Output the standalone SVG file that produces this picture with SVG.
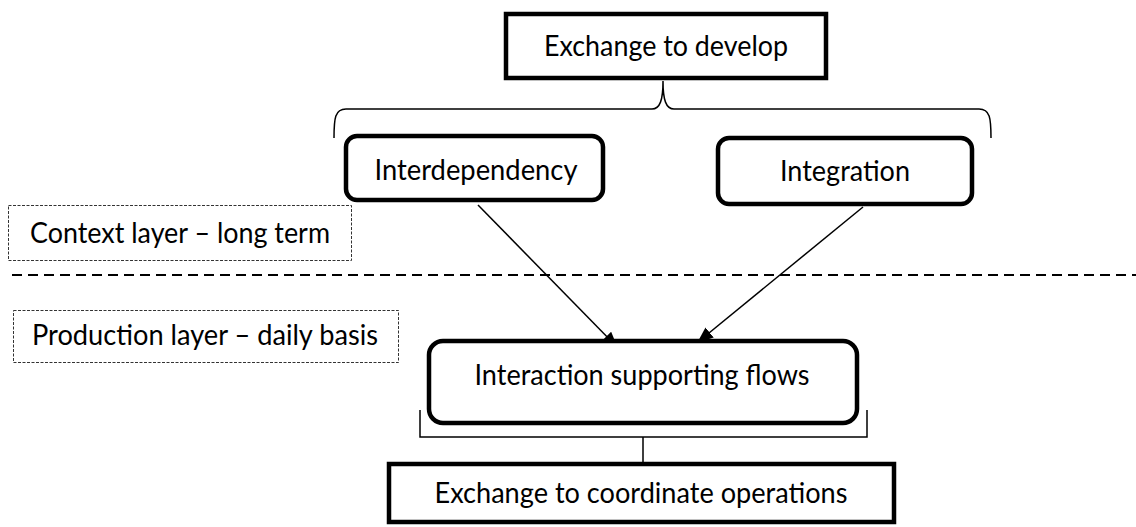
<svg xmlns="http://www.w3.org/2000/svg" width="1136" height="527" viewBox="0 0 1136 527">
<style>
  text { font-family: Lato, "Open Sans", "Liberation Sans", sans-serif; font-size: 29px; fill: #000; }
  .box { fill: #fff; stroke: #000; stroke-width: 4.5; }
  .label { fill: #fff; stroke: #333; stroke-width: 1; stroke-dasharray: 3 1.5; }
  .conn { fill: none; stroke: #000; stroke-width: 1.5; }
</style>
<defs>
  <marker id="arrow" markerUnits="userSpaceOnUse" markerWidth="16" markerHeight="13" refX="15" refY="6.5" orient="auto">
    <path d="M0,0 L16,6.5 L0,13 Z" fill="#000"/>
  </marker>
</defs>
<rect width="1136" height="527" fill="#fff"/>

<g id="connectors">
  <path class="conn" d="M334,138 C334,118 335,109 346,109 L652,109 C660,109 663,100 663,81 C663,100 666,109 674,109 L979,109 C990,109 991,118 991,138"/>
  <path class="conn" d="M420,410 L420,437 L867,437 L867,410 M643,437 L643,462"/>
  <line class="conn" x1="478" y1="205" x2="617" y2="347" marker-end="url(#arrow)"/>
  <line class="conn" x1="863" y1="207" x2="698" y2="342" marker-end="url(#arrow)"/>
  <line x1="12" y1="275" x2="1136" y2="275" stroke="#000" stroke-width="2" stroke-dasharray="10 6"/>
</g>

<g id="exchange-develop">
  <rect class="box" x="506" y="14" width="320" height="64"/>
  <text x="666" y="56" text-anchor="middle" textLength="244" lengthAdjust="spacingAndGlyphs">Exchange to develop</text>
</g>

<g id="interdependency">
  <rect class="box" x="346" y="136" width="257" height="64" rx="11"/>
  <text x="476" y="180" text-anchor="middle" textLength="203" lengthAdjust="spacingAndGlyphs">Interdependency</text>
</g>

<g id="integration">
  <rect class="box" x="718" y="138" width="254" height="66" rx="11"/>
  <text x="845" y="181" text-anchor="middle" textLength="130" lengthAdjust="spacingAndGlyphs">Integration</text>
</g>

<g id="context-layer">
  <rect class="label" x="8.5" y="205.5" width="343" height="55"/>
  <text x="30" y="243" textLength="300" lengthAdjust="spacingAndGlyphs">Context layer – long term</text>
</g>

<g id="production-layer">
  <rect class="label" x="13.5" y="310.5" width="385" height="52"/>
  <text x="32" y="345" textLength="346" lengthAdjust="spacingAndGlyphs">Production layer – daily basis</text>
</g>

<g id="interaction-flows">
  <rect class="box" x="429" y="341" width="428" height="82" rx="14"/>
  <text x="642" y="385" text-anchor="middle" textLength="335" lengthAdjust="spacingAndGlyphs">Interaction supporting flows</text>
</g>

<g id="exchange-coordinate">
  <rect class="box" x="389" y="464" width="505" height="58"/>
  <text x="641" y="503" text-anchor="middle" textLength="413" lengthAdjust="spacingAndGlyphs">Exchange to coordinate operations</text>
</g>
</svg>
